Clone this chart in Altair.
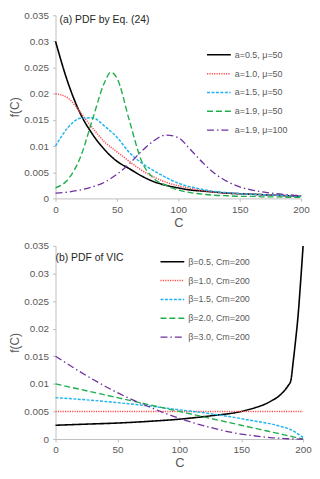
import altair as alt
import pandas as pd

# ---------- Panel (a): PDF by Eq. (24) ----------
xa = [0, 10, 20, 30, 40, 45, 50, 60, 70, 80, 90, 100, 110, 120, 130, 140, 150, 160, 170, 180, 190, 200]
a_black = [0.030, 0.0222, 0.0163, 0.0123, 0.0093, 0.0081, 0.0071, 0.0057, 0.0043, 0.0032, 0.0025, 0.0020, 0.0016, 0.0014, 0.0012, 0.0010, 0.0009, 0.0008, 0.0007, 0.0006, 0.0005, 0.0004]
a_red = [0.020, 0.0192, 0.0165, 0.0135, 0.0108, 0.0098, 0.0089, 0.0071, 0.0054, 0.0041, 0.0031, 0.0024, 0.0019, 0.0015, 0.0012, 0.0010, 0.0009, 0.0008, 0.0007, 0.0006, 0.0005, 0.0005]
a_blue = [0.010, 0.0135, 0.0153, 0.0154, 0.0138, 0.0128, 0.0117, 0.0088, 0.0068, 0.0053, 0.0040, 0.0029, 0.0022, 0.0017, 0.0013, 0.0011, 0.0009, 0.0008, 0.0007, 0.0006, 0.0005, 0.0004]
a_green = [0.002, 0.0036, 0.0077, 0.0150, 0.0222, 0.0241, 0.0230, 0.0150, 0.0072, 0.0038, 0.0025, 0.0016, 0.0011, 0.0008, 0.0006, 0.0005, 0.0004, 0.0004, 0.0003, 0.0003, 0.0002, 0.0002]
a_purple = [0.0010, 0.0012, 0.0016, 0.0022, 0.0031, 0.0038, 0.0046, 0.0066, 0.0090, 0.0110, 0.0121, 0.0116, 0.0093, 0.0068, 0.0047, 0.0032, 0.0022, 0.0016, 0.0012, 0.0009, 0.0007, 0.0005]
a_names = ["a=0.5, μ=50", "a=1.0, μ=50", "a=1.5, μ=50", "a=1.9, μ=50", "a=1.9, μ=100"]

# ---------- Panel (b): PDF of VIC ----------
xb = [0, 25, 50, 75, 100, 125, 150, 160, 170, 175, 180, 185, 188, 190, 192, 194, 196, 198, 200]
b_black = [0.0025, 0.0027, 0.0029, 0.0032, 0.0036, 0.0042, 0.0050, 0.0056, 0.0064, 0.0070, 0.0077, 0.0088, 0.0097, 0.0105, 0.0140, 0.0180, 0.0225, 0.0285, 0.0350]
b_red = [0.005] * 19
b_blue = [0.0075, 0.0071, 0.0066, 0.0060, 0.0053, 0.0046, 0.0037, 0.0033, 0.0029, 0.0027, 0.0024, 0.0021, 0.0019, 0.0017, 0.0015, 0.0012, 0.0009, 0.0006, 0.0003]
b_green = [0.0100, 0.00875, 0.0075, 0.00625, 0.0050, 0.00375, 0.0025, 0.0020, 0.0015, 0.00125, 0.0010, 0.00075, 0.0006, 0.0005, 0.0004, 0.0003, 0.0002, 0.0001, 0.0]
b_purple = [0.0150, 0.0115, 0.0084, 0.0059, 0.00375, 0.0021, 0.0009, 0.0006, 0.00034, 0.00023, 0.00015, 0.00008, 0.00005, 0.00004, 0.00002, 0.00001, 0.0, 0.0, 0.0]
b_names = ["β=0.5, Cm=200", "β=1.0, Cm=200", "β=1.5, Cm=200", "β=2.0, Cm=200", "β=3.0, Cm=200"]

colors = ["#000000", "#ff4b4b", "#1fb4ef", "#1fae4b", "#7030a0"]
dashes = [[1, 0], [1.2, 1.2], [3, 1.5], [6, 3], [7, 3, 1.5, 3]]
widths = [1.6, 1.3, 1.5, 1.5, 1.5]

def long_df(xs, series, names):
    rows = []
    for name, ys in zip(names, series):
        for x, y in zip(xs, ys):
            rows.append({"C": x, "f": y, "s": name})
    return pd.DataFrame(rows)

dfa = long_df(xa, [a_black, a_red, a_blue, a_green, a_purple], a_names)
dfb = long_df(xb, [b_black, b_red, b_blue, b_green, b_purple], b_names)

FONT = "Liberation Sans"
GREY = "#595959"
AX = "#bfbfbf"

def panel(df, names, title, w, h, lx, ly, tx, ty):
    xaxis = alt.Axis(values=[0, 50, 100, 150, 200], title="C", labelFlush=False,
                     grid=False, domainColor=AX, tickColor=AX, tickSize=3,
                     labelColor=GREY, labelFontSize=10, labelFont=FONT, labelPadding=3,
                     titleColor=GREY, titleFontSize=13, titleFontWeight="normal", titleFont=FONT,
                     titlePadding=2)
    yaxis = alt.Axis(values=[0, 0.005, 0.01, 0.015, 0.02, 0.025, 0.03, 0.035], format="~g",
                     title="f(C)", labelFlush=False, grid=False, domainColor=AX, tickColor=AX,
                     tickSize=3, labelColor=GREY, labelFontSize=10, labelFont=FONT, labelPadding=4,
                     titleColor=GREY, titleFontSize=12, titleFontWeight="normal", titleFont=FONT,
                     titlePadding=2)
    legend = alt.Legend(title=None, orient="none", legendX=lx, legendY=ly, symbolType="stroke",
                        symbolSize=576, symbolStrokeWidth=1.6, labelFontSize=9, labelFont=FONT,
                        labelColor=GREY, rowPadding=1, padding=0, labelOffset=3, labelLimit=200)
    lines = alt.Chart(df).mark_line(interpolate="monotone").encode(
        x=alt.X("C:Q", scale=alt.Scale(domain=[0, 200], nice=False), axis=xaxis),
        y=alt.Y("f:Q", scale=alt.Scale(domain=[0, 0.035], nice=False), axis=yaxis),
        color=alt.Color("s:N", scale=alt.Scale(domain=names, range=colors), legend=legend),
        strokeDash=alt.StrokeDash("s:N", scale=alt.Scale(domain=names, range=dashes), legend=legend),
        strokeWidth=alt.StrokeWidth("s:N", scale=alt.Scale(domain=names, range=widths), legend=None),
    )
    label = alt.Chart(pd.DataFrame({"t": [title]})).mark_text(
        align="left", baseline="middle", font=FONT, fontSize=10.5, color="#262626"
    ).encode(x=alt.value(tx), y=alt.value(ty), text="t:N")
    return alt.layer(lines, label).properties(width=w, height=h)

pa = panel(dfa, a_names, "(a) PDF by Eq. (24)", 248, 185, 152, 27, 4, 5)
pb = panel(dfb, b_names, "(b) PDF of VIC", 250, 195, 105, 3, 0, 12)

chart = alt.vconcat(pa, pb, spacing=12).resolve_scale(
    color="independent", strokeDash="independent", strokeWidth="independent"
).resolve_legend(color="independent", strokeDash="independent").properties(
    padding={"left": 0, "top": 0, "right": 0, "bottom": 0}
).configure_view(stroke=None)

chart.save("out.html", embed_options={"renderer": "svg", "actions": False})
